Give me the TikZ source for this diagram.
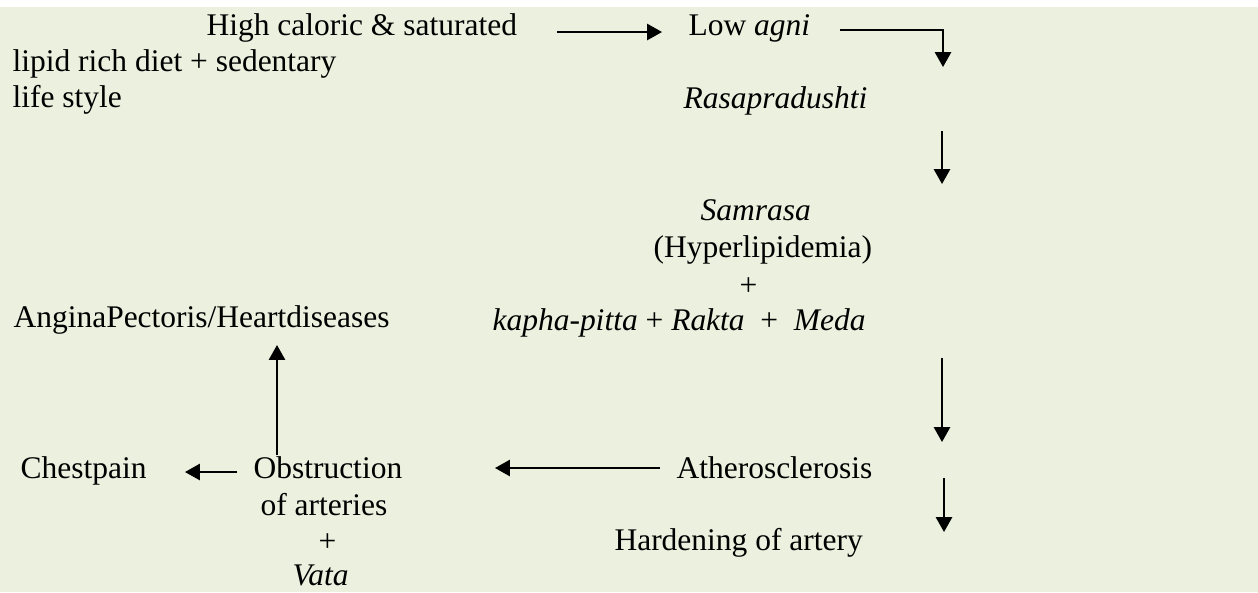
\documentclass[tikz,border=0pt]{standalone}
\usepackage{fontspec}
\setmainfont{Liberation Serif}
\usetikzlibrary{arrows.meta}
\definecolor{bgreen}{HTML}{EBF1DE}
\begin{document}
\begin{tikzpicture}[x=0.381pt,y=-0.381pt,
  lbl/.style={anchor=base west, inner sep=0pt, font=\fontsize{12}{14}\selectfont},
  conn/.style={line width=0.76pt, -{Triangle[length=5.7pt,width=6.2pt]}}]
\useasboundingbox (0,0) rectangle (1258,592);
\fill[bgreen] (0,7) rectangle (1258,592);
% texts
\node[lbl] (high) at (206,35) {High caloric \& saturated};
\node[lbl] (lipid) at (12,71) {lipid rich diet + sedentary};
\node[lbl] (life) at (12,107) {life style};
\node[lbl] (agni) at (688,35) {Low \textit{agni}};
\node[lbl] (rasa) at (683,108) {\textit{Rasapradushti}};
\node[lbl] (samrasa) at (700,220) {\textit{Samrasa}};
\node[lbl] (hyper) at (653,257) {(Hyperlipidemia)};
\node[lbl] (plus1) at (739,295) {+};
\node[lbl] (kapha) at (492,330) {\textit{kapha-pitta} + \textit{Rakta}\ \ +\ \ \textit{Meda}};
\node[lbl] (angina) at (13,327) {AnginaPectoris/Heartdiseases};
\node[lbl] (athero) at (676,478) {Atherosclerosis};
\node[lbl] (obst) at (253,478) {Obstruction};
\node[lbl] (arteries) at (260,515) {of arteries};
\node[lbl] (plus2) at (318,551) {+};
\node[lbl] (vata) at (292,585) {\textit{Vata}};
\node[lbl] (chest) at (20,478) {Chestpain};
\node[lbl] (hard) at (614,550) {Hardening of artery};
% connector ends
\coordinate (a1s) at (557,32); \coordinate (a1e) at (662,32);
\coordinate (a2s) at (840,30); \coordinate (a2e) at (943,67);
\coordinate (a3s) at (942,131); \coordinate (a3e) at (942,184);
\coordinate (a4s) at (942,358); \coordinate (a4e) at (942,442);
\coordinate (a5s) at (944,478); \coordinate (a5e) at (944,532);
\coordinate (a6s) at (660,468); \coordinate (a6e) at (495,468);
\coordinate (a7s) at (237,472); \coordinate (a7e) at (185,472);
\coordinate (a8s) at (277,455); \coordinate (a8e) at (277,345);
\draw[conn] (a1s) -- (a1e);
\draw[conn] (a2s) -| (a2e);
\draw[conn] (a3s) -- (a3e);
\draw[conn] (a4s) -- (a4e);
\draw[conn] (a5s) -- (a5e);
\draw[conn] (a6s) -- (a6e);
\draw[conn] (a7s) -- (a7e);
\draw[conn] (a8s) -- (a8e);
\end{tikzpicture}
\end{document}
